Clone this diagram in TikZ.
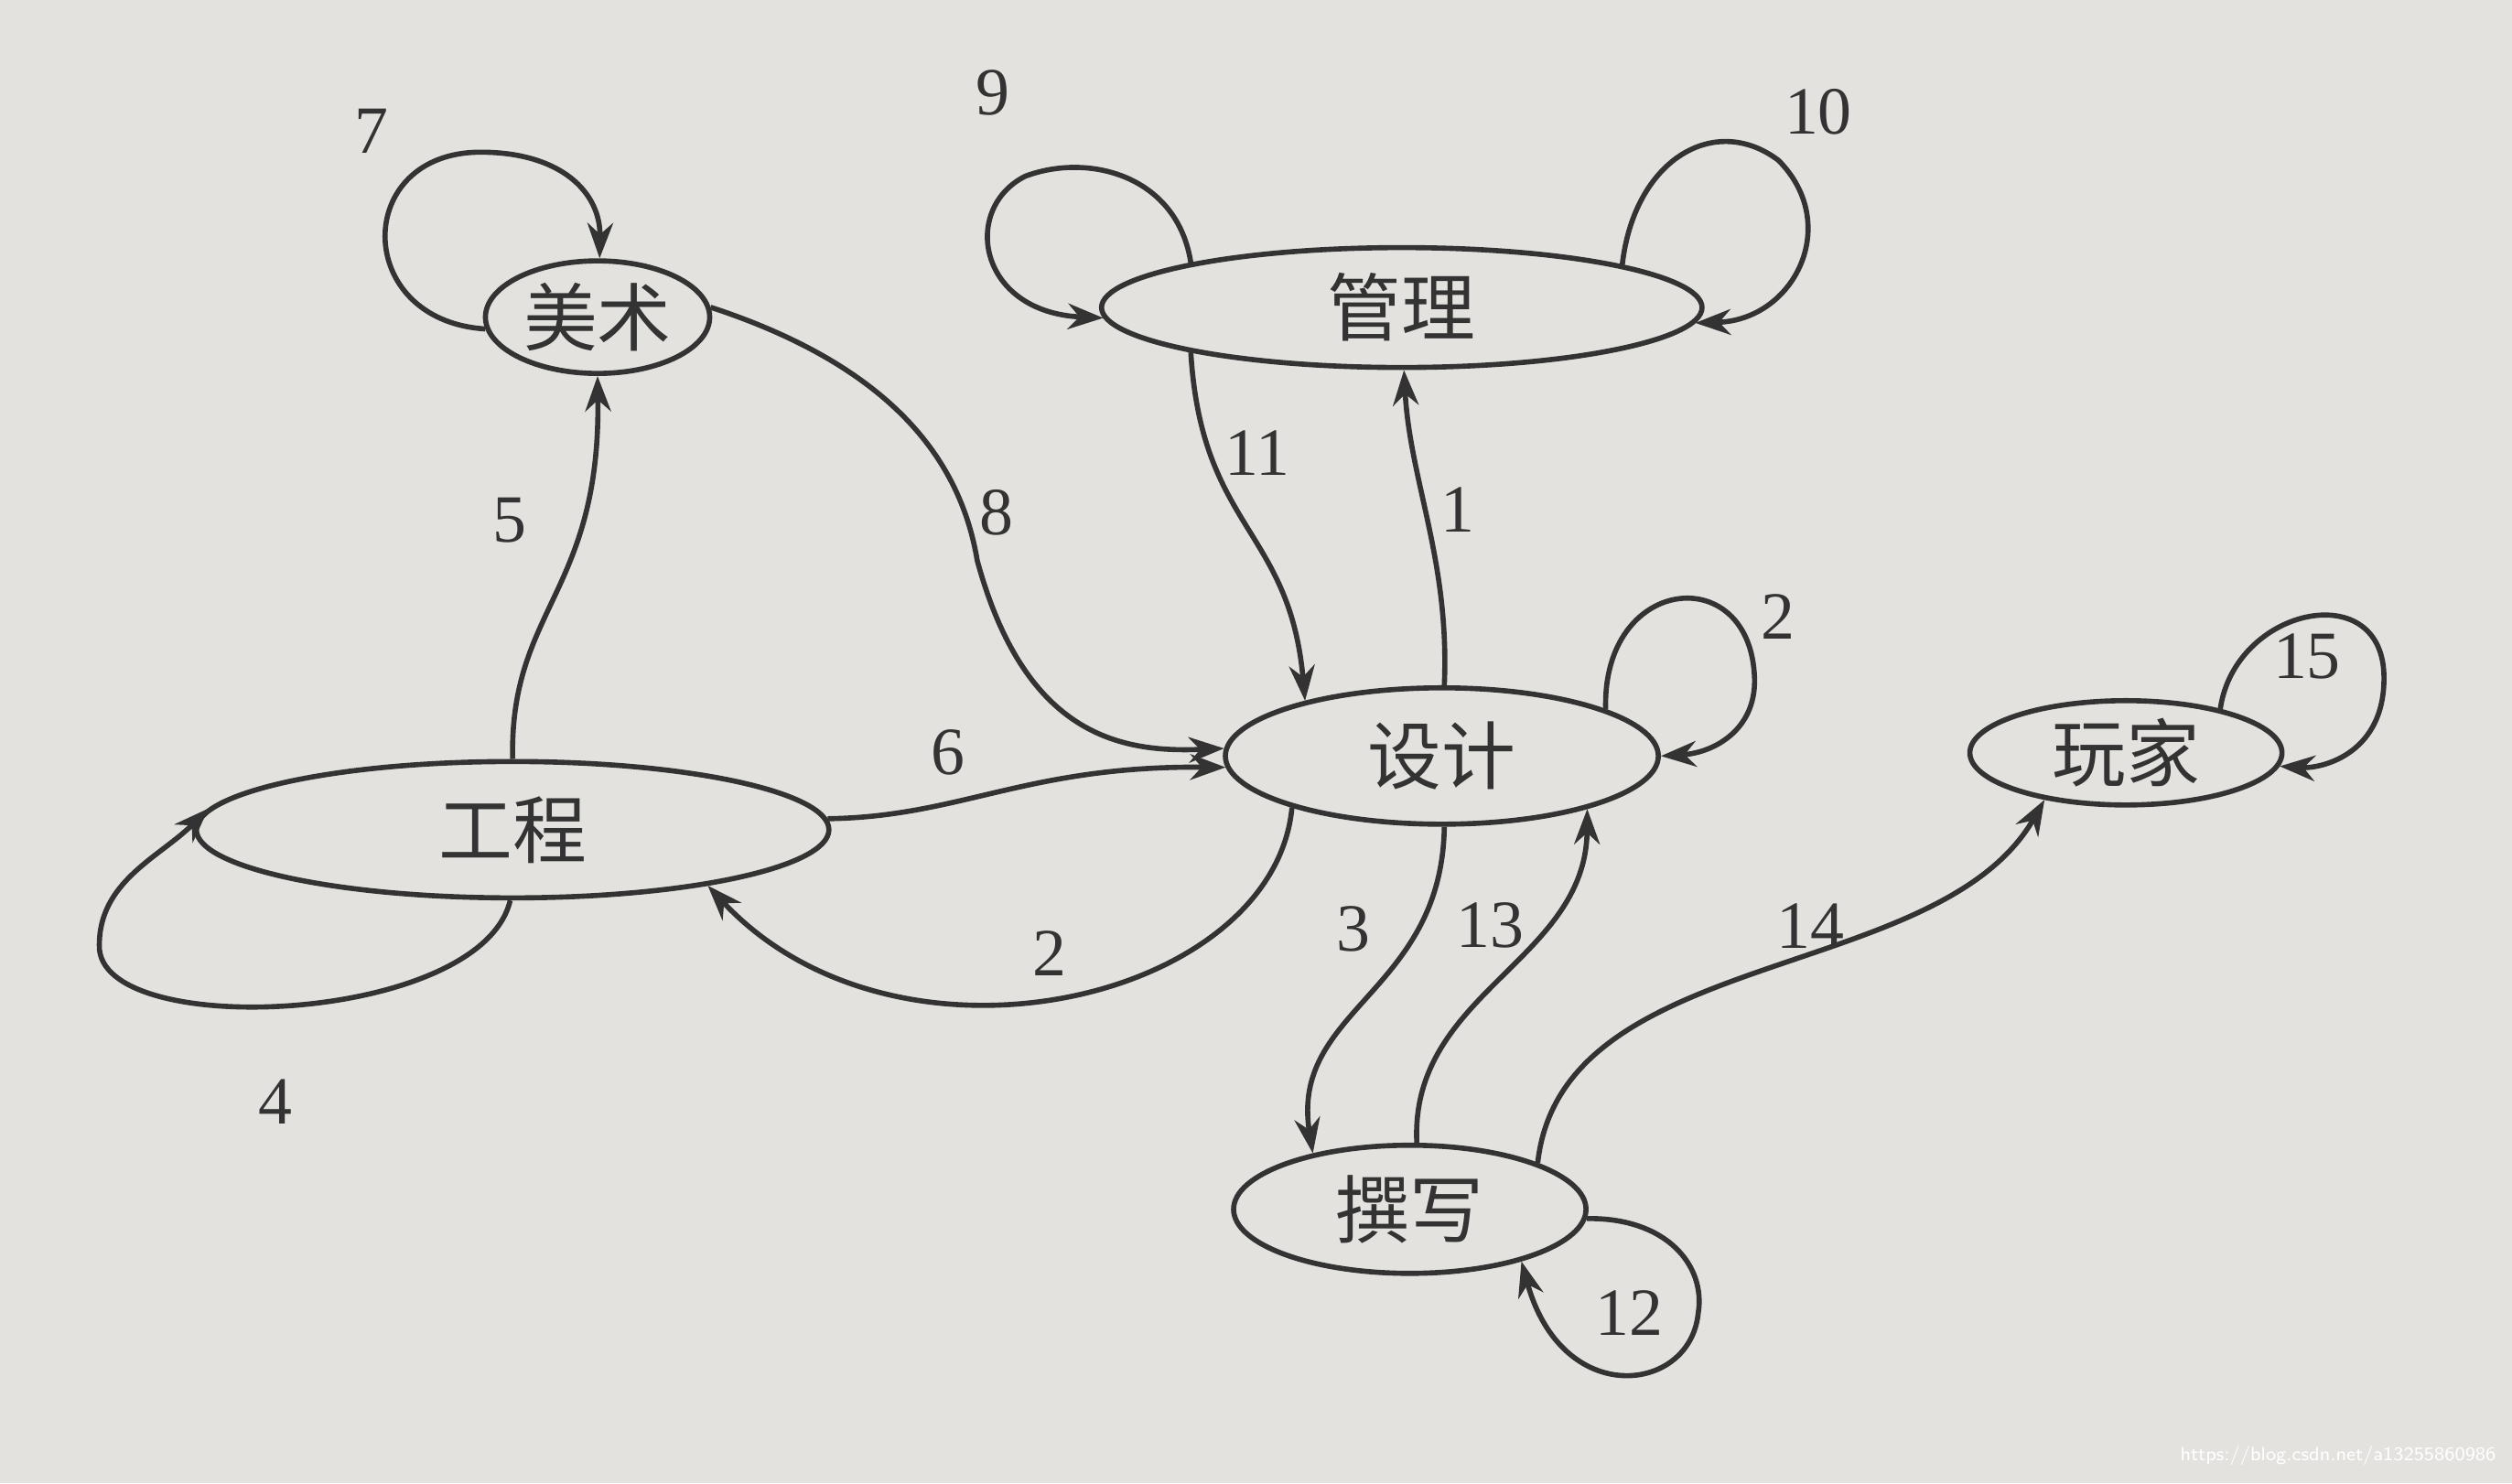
\documentclass[tikz,border=0pt]{standalone}
\usepackage{fontspec}
\setmainfont{Liberation Serif}
\newfontfamily\cjk{Noto Sans CJK SC}
\usetikzlibrary{shapes.geometric,arrows.meta}
\definecolor{bg}{HTML}{E4E2DF}
\definecolor{ink}{HTML}{333333}
\begin{document}
\begin{tikzpicture}[x=0.017506cm,y=-0.017506cm,
  st/.style={ellipse,draw=ink,line width=1.6pt,inner sep=0pt,font=\cjk\fontsize{23}{26}\selectfont,text=ink},
  ed/.style={draw=ink,line width=1.6pt,-{Stealth[length=11pt,width=8pt]}},
  lb/.style={font=\fontsize{21}{24}\selectfont,text=ink}]
\fill[bg] (0,0) rectangle (1568,926);
\useasboundingbox (0,0) rectangle (1568,926);
\node[st,minimum width=2.45cm,minimum height=1.23cm] (ms) at (373,198) {美术};
\node[st,minimum width=6.56cm,minimum height=1.31cm] (gl) at (875,192) {管理};
\node[st,minimum width=4.73cm,minimum height=1.49cm] (sj) at (900,472) {设计};
\node[st,minimum width=6.91cm,minimum height=1.49cm] (gc) at (320,518) {工程};
\node[st,minimum width=3.41cm,minimum height=1.14cm] (wj) at (1327,470) {玩家};
\node[st,minimum width=3.85cm,minimum height=1.40cm] (zx) at (880,755) {撰写};
% edges
\draw[ed] (sj.88) .. controls (905,350) and (880,300) .. (gl.-88);
\draw[ed] (sj.16) .. controls (1000,360) and (1090,350) .. (1095,420) .. controls (1098,455) and (1070,470) .. (sj.0);
\draw[ed] (sj.199) .. controls (795,625) and (560,680) .. (gc.-16);
\draw[ed] (sj.-88) .. controls (900,620) and (805,630) .. (zx.150);
\draw[ed] (zx.84) .. controls (880,620) and (990,600) .. (sj.-20);
\draw[ed] (gc.-92) .. controls (300,640) and (60,650) .. (62,590) .. controls (62,550) and (100,535) .. (gc.176);
\draw[ed] (gc.90) .. controls (318,380) and (375,370) .. (ms.-90);
\draw[ed] (gc.2) .. controls (600,510) and (640,478) .. (sj.183);
\draw[ed] (ms.186) .. controls (220,200) and (220,95) .. (300,95) .. controls (350,95) and (375,120) .. (ms.88);
\draw[ed] (ms.5) .. controls (560,230) and (600,290) .. (610,350) .. controls (640,460) and (700,470) .. (sj.178);
\draw[ed] (gl.168) .. controls (735,110) and (680,95) .. (640,110) .. controls (600,130) and (610,195) .. (gl.182);
\draw[ed] (gl.11) .. controls (1020,100) and (1070,70) .. (1110,100) .. controls (1150,140) and (1120,200) .. (gl.-3);
\draw[ed] (gl.-168) .. controls (750,330) and (805,330) .. (sj.158);
\draw[ed] (zx.-3) .. controls (1040,760) and (1065,790) .. (1060,820) .. controls (1055,870) and (975,880) .. (zx.-25);
\draw[ed] (zx.20) .. controls (975,590) and (1210,615) .. (wj.-150);
\draw[ed] (wj.25) .. controls (1395,380) and (1485,360) .. (1488,420) .. controls (1490,470) and (1450,480) .. (wj.-5);
% labels
\node[lb] (l1) at (910,318) {1};
\node[lb] (l2a) at (1110,385) {2};
\node[lb] (l2b) at (655,595) {2};
\node[lb] (l3) at (845,580) {3};
\node[lb] (l4) at (172,688) {4};
\node[lb] (l5) at (318,325) {5};
\node[lb] (l6) at (592,470) {6};
\node[lb] (l7) at (232,82) {7};
\node[lb] (l8) at (622,320) {8};
\node[lb] (l9) at (620,58) {9};
\node[lb] (l10) at (1135,70) {10};
\node[lb] (l11) at (785,283) {11};
\node[lb] (l12) at (1017,820) {12};
\node[lb] (l13) at (930,578) {13};
\node[lb] (l14) at (1130,578) {14};
\node[lb] (l15) at (1440,410) {15};
\node[font=\sffamily\fontsize{6}{7}\selectfont,text=white,anchor=south east] (wm) at (1565,922) {https://blog.csdn.net/a13255860986};
\end{tikzpicture}
\end{document}
